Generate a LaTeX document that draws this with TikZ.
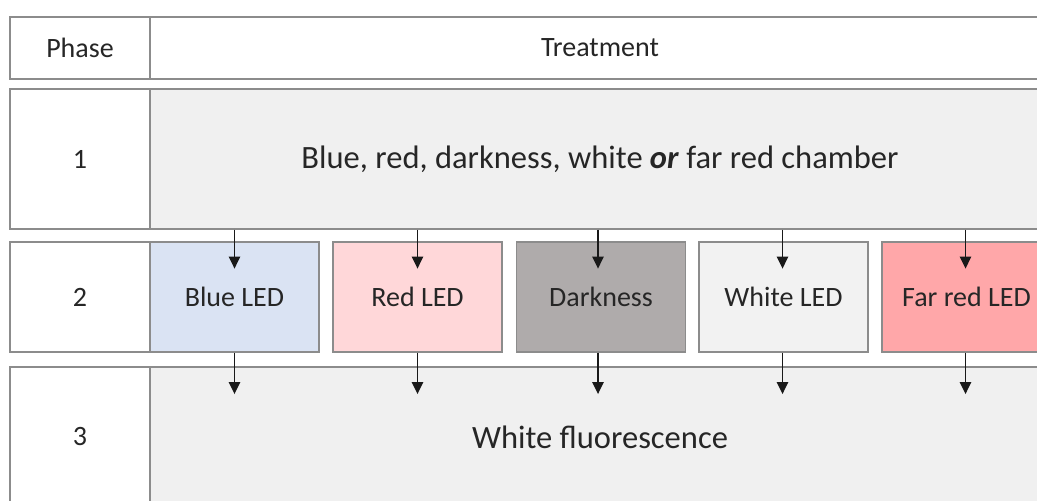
\documentclass[tikz,border=0pt]{standalone}
\usepackage{fontspec}
\setmainfont{Carlito}
\usetikzlibrary{arrows.meta,positioning,calc}
\definecolor{bordc}{HTML}{8C8C8C}
\definecolor{panel}{HTML}{F0F0F0}
\definecolor{txt}{HTML}{262626}
\definecolor{cblue}{HTML}{DAE3F3}
\definecolor{cred}{HTML}{FFD7D9}
\definecolor{cdark}{HTML}{AFABAB}
\definecolor{cwhite}{HTML}{F2F2F2}
\definecolor{cfar}{HTML}{FFA7A9}
\tikzset{
  cell/.style={draw=bordc, line width=1.1pt, inner sep=0pt, text=txt, font=\fontsize{21}{25}\selectfont},
  phasecell/.style={cell, fill=white, minimum width=105pt},
  treatcell/.style={cell, minimum width=675pt},
  ledbox/.style={cell, minimum width=126.75pt, minimum height=82.5pt},
  big/.style={font=\fontsize{24.4}{29}\selectfont},
  arr/.style={-{Triangle[length=9pt,width=8.5pt]}, line width=1.2pt, black!90}
}
\begin{document}
\begin{tikzpicture}[x=0.75pt,y=-0.75pt]
\useasboundingbox (0,0) rectangle (1037,500);
\clip (0,0) rectangle (1037,500);
\fill[white] (0,0) rectangle (1037,500);
% header row
\node[phasecell, minimum height=46.5pt] (hP) at (80,48) {Phase};
\node[treatcell, fill=white, minimum height=46.5pt] (hT) at (600,48) {Treatment};
% row 1
\node[phasecell, minimum height=105pt] (p1) at (80,159) {1};
\node[treatcell, fill=panel, minimum height=105pt, big] (t1) at (600,159) {Blue, red, darkness, white \textbf{\textit{or}} far red chamber};
% row 3
\node[phasecell, minimum height=105pt] (p3) at (80,437) {3};
\node[treatcell, fill=panel, minimum height=105pt, big] (t3) at (600,437) {White fluorescence};
% row 2
\node[phasecell, minimum height=82.5pt] (p2) at (80,297) {2};
\node[ledbox, fill=cblue] (b1) at (234.5,297) {Blue LED};
\node[ledbox, fill=cred] (b2) at (417.5,297) {Red LED};
\node[ledbox, fill=cdark] (b3) at (601,297) {Darkness};
\node[ledbox, fill=cwhite] (b4) at (783.5,297) {White LED};
\node[ledbox, fill=cfar] (b5) at (966.5,297) {Far red LED};
% arrows
\foreach \b/\dx in {b1/0,b2/0,b3/-3,b4/-1,b5/-1}{
  \draw[arr] ([xshift=\dx*0.75pt]\b.north |- t1.south) -- ([xshift=\dx*0.75pt, yshift=-20.5pt]\b.north);
  \draw[arr] ([xshift=\dx*0.75pt]\b.south) -- ([xshift=\dx*0.75pt, yshift=-31pt]\b.south);
}
\end{tikzpicture}
\end{document}
